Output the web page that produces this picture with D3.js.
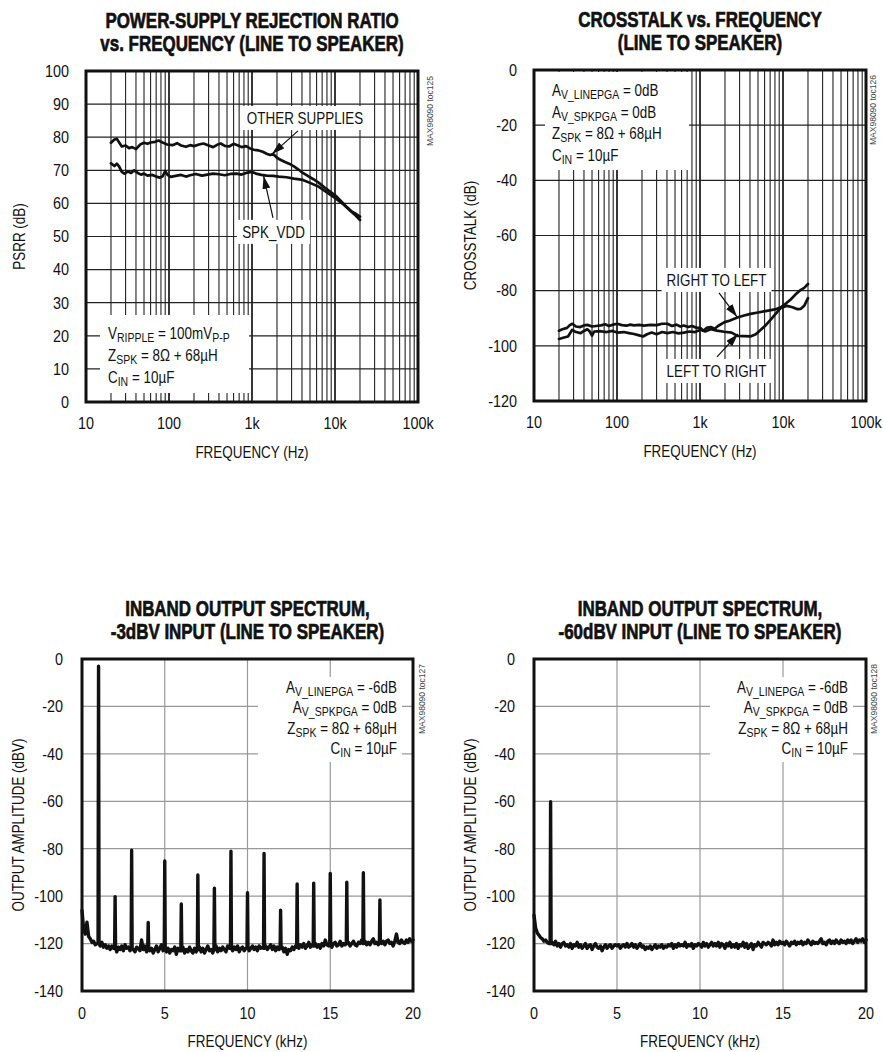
<!DOCTYPE html>
<html><head><meta charset="utf-8">
<script src="https://cdn.jsdelivr.net/npm/d3@7"></script>
<style>
body{margin:0;background:#fff;}
svg text{font-family:"Liberation Sans",Arial,Helvetica,sans-serif;fill:#111;}
</style></head><body>
<svg id="c" width="883" height="1052"></svg>
<script>
// ---------------- DATA ----------------
// PSRR vs frequency
const otherFreq = [20,22,23.5,25,27,30,33,36,40,45,50,55,60,68,75,85,95,110,125,140,160,180,200,230,260,300,340,380,420,470,530,600,680,750,850,950,1050,1200,1350,1500,1650,1800,2000,2200,2500,2800,3200,3600,4100,4700,5500,6400,7500,8800,10200,12000,14000,16000,18000,20000];
const otherDb   = [78.3,79.3,79.5,78.5,77.2,77.5,76.7,77.0,76.4,77.8,78.3,78.0,78.4,78.6,79.0,78.3,77.8,77.6,78.2,77.5,77.1,77.6,77.3,77.8,78.1,77.5,77.0,77.7,78.1,77.4,77.2,78.0,77.5,77.0,77.3,76.6,76.2,76.0,75.6,75.0,74.6,74.9,73.8,73.2,72.5,72.0,71.2,70.3,69.2,68.3,67.3,66.2,64.8,63.5,62.3,60.5,58.8,57.5,56.8,56.0];
const spkFreq = [20,22,23.5,25,27,29,32,35,38,42,46,50,55,63,70,78,84,90,96,105,120,140,160,180,210,250,290,340,400,470,550,650,750,850,1000,1150,1300,1500,1800,2100,2600,3200,4100,5000,6400,8000,10200,12500,14500,16000,18000,20000];
const spkDb   = [72.1,71.3,72.0,71.2,69.5,69.0,69.6,69.2,70.0,69.2,68.7,69.0,68.4,68.6,68.1,67.8,68.2,69.8,68.6,68.0,68.3,68.6,68.1,68.5,68.9,68.4,68.7,69.0,68.8,68.5,68.9,69.0,68.7,69.2,69.5,68.9,68.6,68.4,68.3,68.1,67.9,67.5,67.1,66.2,65.0,63.3,61.5,59.8,58.3,57.3,56.2,55.0];

// Crosstalk vs frequency
const rtlFreq = [20,22,25,27,29,32,36,40,44,50,56,64,72,80,90,101,115,130,145,160,185,210,254,300,350,405,460,520,580,640,720,800,900,1020,1100,1200,1350,1500,1650,1950,2300,2820,3400,4050,5000,6400,8000,9300,11000,12300,14000,16400,18000,20000];
const rtlDb   = [-94.5,-94.0,-93.5,-92.5,-92.0,-93.0,-93.2,-92.6,-92.4,-93.0,-92.8,-92.6,-92.2,-92.8,-92.3,-92.0,-92.5,-92.7,-92.3,-92.6,-92.4,-92.7,-92.4,-92.5,-92.0,-92.0,-92.8,-92.3,-93.0,-92.6,-93.2,-92.8,-93.4,-93.6,-94.5,-93.5,-93.2,-93.8,-92.8,-91.5,-90.8,-89.7,-89.0,-88.4,-87.9,-87.3,-86.8,-86.1,-84.5,-83.3,-81.5,-79.7,-79.0,-77.6];
const ltrFreq = [20,23,25.7,28.9,32,36.5,40,43.9,47,50,53,63.6,75,88,101,120,140,160,185,206,230,262,300,350,405,470,550,640,750,870,1020,1150,1350,1600,1950,2400,2820,3400,4050,4700,5400,6200,7200,8200,9300,11200,13000,15000,16400,18000,20000];
const ltrDb   = [-97.5,-97.0,-96.6,-94.2,-95.0,-95.4,-94.6,-94.0,-94.8,-96.3,-94.8,-94.7,-95.0,-94.6,-95.2,-95.0,-95.4,-95.7,-96.2,-96.6,-95.8,-95.2,-95.8,-95.0,-95.4,-95.0,-95.5,-95.2,-94.8,-95.0,-94.2,-94.8,-94.0,-94.5,-94.9,-95.2,-96.4,-96.5,-96.6,-95.8,-94.2,-92.5,-90.3,-88.3,-86.4,-85.5,-86.0,-86.7,-86.6,-85.5,-82.7];

// Inband spectrum, -3dBV input: noise floor every 0.1 kHz (0..20 kHz) + tones
const floorA = [
-106,-114,-116,-111,-117,-118,-119.5,-119,-120.5,-120,
-120,-121,-119.5,-121.5,-120.5,-122,-121,-122.5,-121,-122,
-122,-123.5,-121.5,-122.5,-121,-123,-120.5,-122,-121.5,-123,
-122,-122.5,-123.5,-121.5,-122,-123,-118.5,-122.5,-121,-123.5,
-122,-123,-122,-124,-122.5,-121,-123.5,-122,-120.5,-123,
-122.5,-123.5,-122,-124,-122.5,-123,-121.5,-124.5,-122,-123,
-123,-121.5,-124,-122.5,-123.5,-121.5,-123,-124,-122,-123.5,
-122.5,-121.5,-123.5,-122,-124,-122.5,-121,-123,-122.5,-124,
-122.5,-121,-123.5,-122,-123,-121.5,-122.5,-123.5,-121,-122,
-122,-123,-121.5,-122.5,-121,-123.5,-122,-121.5,-123,-122,
-121.5,-123,-122,-121,-122.5,-121.5,-123,-121,-122,-121.5,
-122,-121,-122.5,-121.5,-120.5,-122.5,-121,-123,-121.5,-122.5,
-122,-121.5,-123.5,-122,-124.5,-122.5,-123,-121.5,-122.5,-121,
-121.5,-122,-120.5,-121.5,-120,-122,-121,-119.5,-121.5,-120.5,
-121,-120,-121.5,-120.5,-122,-120,-121,-118.5,-120.5,-121,
-120.5,-121.5,-120,-119.5,-121,-120.5,-119,-121,-120,-120.5,
-120,-119.5,-121,-120,-119,-120.5,-121,-119.5,-120,-118.5,
-120,-119,-120.5,-119.5,-120.5,-119,-118,-120,-119.5,-120.5,
-119.5,-120,-119,-120.5,-119,-118.5,-120,-119.5,-121,-119,
-116,-119.5,-120,-118.5,-119.5,-120,-118.5,-119.5,-118,-119,
-118.5];
const toneFreqA  = [1,2,3,4,5,6,7,8,9,10,11,12,13,14,15,16,17,18];
const toneLevelA = [-3,-100.2,-80.6,-111.1,-85.2,-103.3,-91.1,-96.7,-81,-98.6,-82,-105.9,-94.9,-94.5,-90.4,-94.1,-90.1,-101.6];

// Inband spectrum, -60dBV input
const floorB = [
-108,-113.5,-115.5,-116.5,-117.5,-118,-119,-118.5,-119.5,-120,
-120,-119.5,-120.5,-119,-121,-120,-121.5,-120,-119.5,-121,
-120.5,-121.5,-120,-122,-120.5,-121,-119.5,-121.5,-120.5,-122,
-121,-120,-122,-121,-120.5,-122.5,-121,-120,-121.5,-122,
-121,-123,-121.5,-120.5,-122,-121,-120.5,-122,-121,-120.5,
-121,-120.5,-122,-121,-120.5,-121.5,-120,-121.5,-121,-120,
-121.5,-120.5,-122,-121,-120,-121.5,-121,-122.5,-121.5,-122,
-121,-122.5,-121.5,-120.5,-122,-121,-121.5,-120.5,-122,-121,
-121.5,-120.5,-121,-120,-122,-120.5,-121.5,-120,-121,-120.5,
-121,-119.5,-121.5,-120.5,-121,-120,-122,-120.5,-121,-120,
-120.5,-121.5,-119.5,-121,-120,-121.5,-120.5,-119.5,-121,-120,
-121,-119.5,-121.5,-120,-120.5,-122,-120,-121,-119.5,-121.5,
-120.5,-121.5,-120,-122,-120.5,-121,-119.5,-121.5,-120,-122,
-121,-120,-122.5,-120.5,-121,-119.5,-120.5,-121.5,-119.5,-120,
-120.5,-119.5,-120,-121,-118.5,-120.5,-119.5,-120.5,-119,-120,
-119.5,-120.5,-119,-120,-121,-119.5,-120,-119,-120.5,-119.5,
-120,-119,-120.5,-119.5,-120,-118.5,-119.5,-120.5,-119,-120,
-119.5,-120,-119,-118,-120,-119.5,-120.5,-119,-118.5,-120,
-119,-120,-118.5,-119.5,-120,-118.5,-119.5,-119,-120,-118.5,
-119.5,-118.5,-120,-119,-118,-119.5,-118.5,-119,-118,-119.5,
-118.5];
const toneFreqB  = [1];
const toneLevelB = [-60.2];

// Ticks
const logTickValues = [10,100,1000,10000,100000];
const logTickLabels = ["10","100","1k","10k","100k"];
const psrrTicks = [0,10,20,30,40,50,60,70,80,90,100];
const xtalkTicks = [0,-20,-40,-60,-80,-100,-120];
const specYTicks = [0,-20,-40,-60,-80,-100,-120,-140];
const specXTicks = [0,5,10,15,20];

// ---------------- DRAWING ----------------
const svg = d3.select("#c");
svg.append("rect").attr("width",883).attr("height",1052).attr("fill","#fff");
const defs = svg.append("defs");
defs.append("marker").attr("id","ah").attr("viewBox","0 0 13 8")
  .attr("refX",13).attr("refY",4).attr("markerWidth",13).attr("markerHeight",8)
  .attr("markerUnits","userSpaceOnUse").attr("orient","auto")
  .append("path").attr("d","M0,0L13,4L0,8Z").attr("fill","#111");

const FS = 16, SX = 0.84, SXN = 0.9;  // condensed look via horizontal scaling
function ctext(g, x, y, str, anchor, size, sx, extra){
  return g.append("text").attr("transform",`translate(${x},${y})${extra||""} scale(${sx},1)`)
    .attr("text-anchor",anchor).attr("font-size",size).text(str);
}
function rich(g, x, y, parts, anchor){
  const t = g.append("text").attr("transform",`translate(${x},${y}) scale(${SX},1)`)
    .attr("text-anchor",anchor).attr("font-size",FS);
  let shift = 0;
  parts.forEach(([s,sub])=>{
    const target = sub ? 3 : 0;
    t.append("tspan").attr("dy",target-shift).attr("font-size", sub?12.5:FS).text(s);
    shift = target;
  });
  return t;
}

function frameAndTitles(g, p){
  g.append("rect").attr("x",p.left).attr("y",p.top).attr("width",p.right-p.left).attr("height",p.bottom-p.top)
    .attr("fill","none").attr("stroke","#111").attr("stroke-width",3);
  const cx = (p.left+p.right)/2;
  p.title.forEach((s,i)=>{
    ctext(g, cx, p.top-43+i*23, s, "middle", 22, 0.77).attr("font-weight","bold")
      .style("stroke","#111").style("stroke-width",0.7);
  });
  ctext(g, cx, p.bottom+56, p.xTitle, "middle", FS, SX);
  ctext(g, p.yTitleX+5.7, (p.top+p.bottom)/2, p.yTitle, "middle", FS, SX, " rotate(-90)");
  ctext(g, p.right+p.wmDx+3.3, p.top+40, p.wm, "middle", 9.5, 0.9, " rotate(-90)").style("fill","#444");
}

function noteBox(g, box){
  g.append("rect").attr("x",box.x0).attr("y",box.y0).attr("width",box.x1-box.x0).attr("height",box.y1-box.y0).attr("fill","#fff");
}

const lineStyle = sel => sel.attr("fill","none").attr("stroke","#111").attr("stroke-width",2.7)
  .attr("stroke-linejoin","round").attr("stroke-linecap","round");

// ---- log-frequency panels ----
function logPanel(p){
  const g = svg.append("g");
  const x = d3.scaleLog().domain([10,100000]).range([p.left,p.right]);
  const y = d3.scaleLinear().domain(p.yDomain).range([p.bottom,p.top]);
  const grid = x.ticks().filter(d=>d>10 && d<100000);
  g.selectAll(null).data(grid).join("line")
    .attr("x1",d=>x(d)).attr("x2",d=>x(d)).attr("y1",p.top).attr("y2",p.bottom)
    .attr("stroke","#222").attr("stroke-width",d=>logTickValues.includes(d)?1.8:1.1);
  g.selectAll(null).data(p.yTicks.slice(1,-1)).join("line")
    .attr("x1",p.left).attr("x2",p.right).attr("y1",d=>y(d)).attr("y2",d=>y(d))
    .attr("stroke","#222").attr("stroke-width",1.2);
  logTickValues.forEach((d,i)=> ctext(g, x(d), p.bottom+27, logTickLabels[i], "middle", FS, SXN));
  p.yTicks.forEach(d=> ctext(g, p.left-17, y(d)+5.8, String(d), "end", FS, SXN));
  p.boxes.forEach(b=>noteBox(g,b));
  p.labels.forEach(l=>{
    const px = x(l.f), py = y(l.db);
    g.append("rect").attr("x",px-l.w/2).attr("y",py-12).attr("width",l.w).attr("height",24).attr("fill","#fff");
    ctext(g, px, py+5.8, l.text, "middle", FS, SX);
  });
  const line = d3.line().x(d=>x(d[0])).y(d=>y(d[1]));
  p.series.forEach(s=>{
    const pts = s.f.map((f,i)=>[f,s.db[i]]);
    g.append("path").attr("d",line(pts)).call(lineStyle);
  });
  p.arrows.forEach(a=>{
    g.append("line").attr("x1",x(a.from[0])).attr("y1",y(a.from[1])).attr("x2",x(a.to[0])).attr("y2",y(a.to[1]))
      .attr("stroke","#111").attr("stroke-width",1.2).attr("marker-end","url(#ah)");
  });
  p.notes.forEach((parts,i)=> rich(g, p.noteX, p.noteY + i*p.noteDy, parts, "start"));
  frameAndTitles(g,p);
}

logPanel({
  left:86,right:418,top:71,bottom:402,yDomain:[0,100],yTicks:psrrTicks,
  title:["POWER-SUPPLY REJECTION RATIO","vs. FREQUENCY (LINE TO SPEAKER)"],
  xTitle:"FREQUENCY (Hz)", yTitle:"PSRR (dB)", yTitleX:19, wm:"MAX98090 toc125", wmDx:12,
  series:[{f:otherFreq,db:otherDb},{f:spkFreq,db:spkDb}],
  labels:[{text:"OTHER SUPPLIES",f:4355,db:85.8,w:126},{text:"SPK_VDD",f:1815,db:51.4,w:73}],
  arrows:[{from:[3580,81.9],to:[1742,74.9]},{from:[1790,55.6],to:[1380,68.3]}],
  boxes:[{x0:100,x1:249,y0:315,y1:393}],
  notes:[[["V",0],["RIPPLE",1],[" = 100mV",0],["P-P",1]],[["Z",0],["SPK",1],[" = 8Ω + 68µH",0]],[["C",0],["IN",1],[" = 10µF",0]]],
  noteX:108, noteY:339, noteDy:22
});

logPanel({
  left:534,right:866,top:70,bottom:401,yDomain:[-120,0],yTicks:xtalkTicks,
  title:["CROSSTALK vs. FREQUENCY","(LINE TO SPEAKER)"],
  xTitle:"FREQUENCY (Hz)", yTitle:"CROSSTALK (dB)", yTitleX:470, wm:"MAX98090 toc126", wmDx:7,
  series:[{f:rtlFreq,db:rtlDb},{f:ltrFreq,db:ltrDb}],
  labels:[{text:"RIGHT TO LEFT",f:1581,db:-76.1,w:110},{text:"LEFT TO RIGHT",f:1581,db:-109.1,w:110}],
  arrows:[{from:[1694,-80.8],to:[2793,-89.5]},{from:[1603,-104],to:[2870,-95.7]}],
  boxes:[{x0:545,x1:689,y0:72,y1:170}],
  notes:[[["A",0],["V_LINEPGA",1],[" = 0dB",0]],[["A",0],["V_SPKPGA",1],[" = 0dB",0]],[["Z",0],["SPK",1],[" = 8Ω + 68µH",0]],[["C",0],["IN",1],[" = 10µF",0]]],
  noteX:552, noteY:96, noteDy:21.6
});

// ---- linear spectrum panels ----
function buildSpectrum(floor, tf, tl){
  const pts = [];
  floor.forEach((v,i)=>{
    const f = i/10;
    const k = tf.findIndex(t=>Math.abs(t-f)<1e-6);
    if (k>=0){ pts.push([f-0.03,v]); pts.push([f,tl[k]]); pts.push([f+0.03,v]); }
    else pts.push([f,v]);
  });
  return pts;
}
function specPanel(p){
  const g = svg.append("g");
  const x = d3.scaleLinear().domain([0,20]).range([p.left,p.right]);
  const y = d3.scaleLinear().domain([-140,0]).range([p.bottom,p.top]);
  g.selectAll(null).data(specXTicks.slice(1,-1)).join("line")
    .attr("x1",d=>x(d)).attr("x2",d=>x(d)).attr("y1",p.top).attr("y2",p.bottom).attr("stroke","#999").attr("stroke-width",1.2);
  g.selectAll(null).data(specYTicks.slice(1,-1)).join("line")
    .attr("x1",p.left).attr("x2",p.right).attr("y1",d=>y(d)).attr("y2",d=>y(d)).attr("stroke","#999").attr("stroke-width",1.2);
  specXTicks.forEach(d=> ctext(g, x(d), p.bottom+28, String(d), "middle", FS, SXN));
  specYTicks.forEach(d=> ctext(g, p.left-19, y(d)+5.8, String(d), "end", FS, SXN));
  noteBox(g,p.box);
  const line = d3.line().x(d=>x(d[0])).y(d=>y(d[1]));
  g.append("path").attr("d",line(buildSpectrum(p.floor,p.tf,p.tl))).call(lineStyle).attr("stroke-width",3.4);
  p.notes.forEach((parts,i)=> rich(g, p.noteX, p.noteY + i*20.3, parts, "end"));
  frameAndTitles(g,p);
}
const specNotes = [[["A",0],["V_LINEPGA",1],[" = -6dB",0]],[["A",0],["V_SPKPGA",1],[" = 0dB",0]],[["Z",0],["SPK",1],[" = 8Ω + 68µH",0]],[["C",0],["IN",1],[" = 10µF",0]]];
specPanel({
  left:82,right:413,top:659,bottom:991,floor:floorA,tf:toneFreqA,tl:toneLevelA,
  title:["INBAND OUTPUT SPECTRUM,","-3dBV INPUT (LINE TO SPEAKER)"],
  xTitle:"FREQUENCY (kHz)", yTitle:"OUTPUT AMPLITUDE (dBV)", yTitleX:18, wm:"MAX98090 toc127", wmDx:9,
  box:{x0:258,x1:402,y0:677,y1:762}, notes:specNotes, noteX:397, noteY:693
});
specPanel({
  left:534,right:866,top:659,bottom:991,floor:floorB,tf:toneFreqB,tl:toneLevelB,
  title:["INBAND OUTPUT SPECTRUM,","-60dBV INPUT (LINE TO SPEAKER)"],
  xTitle:"FREQUENCY (kHz)", yTitle:"OUTPUT AMPLITUDE (dBV)", yTitleX:470, wm:"MAX98090 toc128", wmDx:7.5,
  box:{x0:710,x1:853,y0:677,y1:762}, notes:specNotes, noteX:848, noteY:693
});
</script>
</body></html>
